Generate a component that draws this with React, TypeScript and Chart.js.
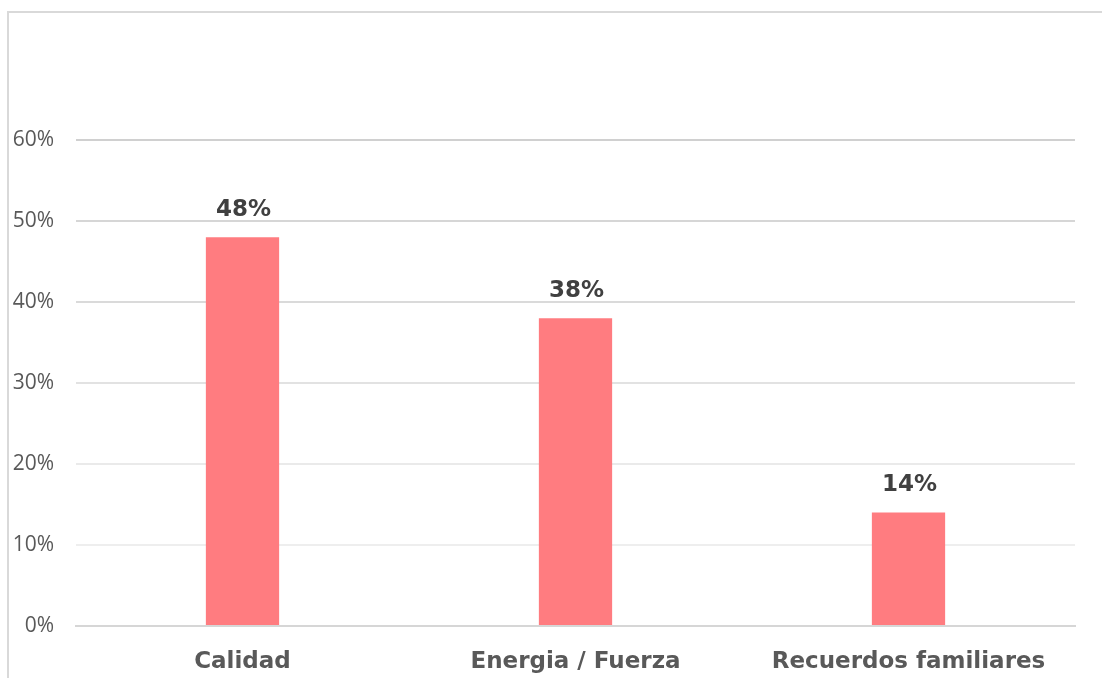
import React, { useEffect, useRef } from "react";
import { Chart, registerables } from "chart.js";

Chart.register(...registerables);

const categories = ["Calidad", "Energia / Fuerza", "Recuerdos familiares"];
const values = [48, 38, 14];
const yTicks = [0, 10, 20, 30, 40, 50, 60];
const gridColors = ["#d6d6d6", "#eeeeee", "#eaeaea", "#e2e2e2", "#dadada", "#d6d6d6", "#d0d0d0"];

const labelPlugin = {
  id: "barLabels",
  afterDatasetsDraw(chart: any) {
    const ctx = chart.ctx;
    const meta = chart.getDatasetMeta(0);
    ctx.save();
    ctx.font = "bold 23px 'DejaVu Sans'";
    ctx.fillStyle = "#404040";
    ctx.textAlign = "center";
    ctx.textBaseline = "bottom";
    meta.data.forEach((bar: any, i: number) => {
      ctx.fillText(values[i] + "%", bar.x + 1, bar.y - 16);
    });
    ctx.restore();
  },
};

export default function App() {
  const ref = useRef<HTMLCanvasElement>(null);
  useEffect(() => {
    const chart = new Chart(ref.current!, {
      type: "bar",
      data: {
        labels: categories,
        datasets: [
          {
            data: values,
            backgroundColor: "#FF7C80",
            categoryPercentage: 1,
            barPercentage: 0.22,
          },
        ],
      },
      options: {
        animation: false,
        responsive: false,
        maintainAspectRatio: false,
        layout: { padding: { top: 140, right: 27, left: 0, bottom: 0 } },
        plugins: { legend: { display: false }, tooltip: { enabled: false } },
        scales: {
          x: {
            grid: { display: false, drawTicks: false },
            border: { display: true, color: "#d6d6d6", width: 2 },
            ticks: {
              padding: 22,
              color: "#595959",
              font: { family: "'DejaVu Sans'", size: 23, weight: "bold" },
            },
            afterFit: (s: any) => {
              s.height = 52;
            },
          },
          y: {
            min: 0,
            max: 60,
            afterBuildTicks: (s: any) => {
              s.ticks = yTicks.map((v) => ({ value: v }));
            },
            grid: {
              color: (c: any) => gridColors[c.index] || "#d9d9d9",
              lineWidth: 2,
              drawTicks: false,
            },
            border: { display: false },
            ticks: {
              padding: 22,
              color: "#595959",
              font: { family: "'Open Sans'", size: 21 },
              callback: (v: any) => v + "%",
            },
            afterFit: (s: any) => {
              s.width = 76;
            },
          },
        },
      },
      plugins: [labelPlugin],
    });
    return () => chart.destroy();
  }, []);
  return (
    <div style={{ position: "fixed", left: 0, top: 0, width: 1102, height: 678, background: "#fff", overflow: "hidden" }}>
      <div
        style={{
          position: "absolute",
          left: 7,
          top: 11,
          width: 1200,
          height: 800,
          borderTop: "2px solid #d9d9d9",
          borderLeft: "2px solid #d9d9d9",
        }}
      />
      <canvas ref={ref} width={1102} height={678} style={{ position: "absolute", left: 0, top: 0 }} />
    </div>
  );
}
